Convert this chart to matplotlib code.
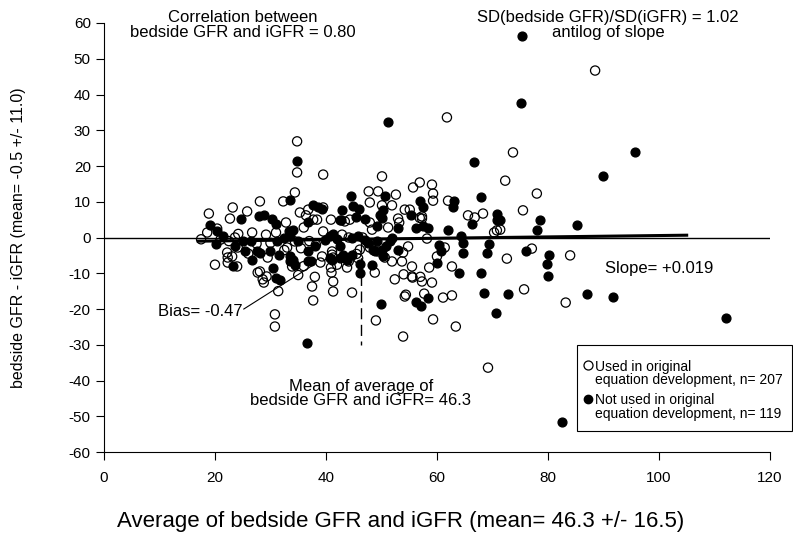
import matplotlib.pyplot as plt
import numpy as np
from matplotlib.patches import Rectangle

plt.rcParams['font.family'] = ['Liberation Sans', 'DejaVu Sans']
plt.rcParams['axes.unicode_minus'] = False

# average of bedside GFR and iGFR (x), difference bedside GFR - iGFR (y)
# used in original equation development (open circles)
used = np.array([
    (88.5, 46.7), (61.8, 33.6), (73.7, 23.8), (72.3, 15.9), (78.0, 12.3), (75.5, 7.6),
    (71.4, 2.2), (77.1, -3.1), (72.6, -5.9), (84.0, -5.0), (75.7, -14.5), (83.2, -18.2),
    (69.2, -36.4), (63.4, -24.9), (59.3, -22.9), (34.8, 26.9), (34.8, 18.2), (39.5, 17.6),
    (50.1, 17.1), (47.7, 12.9), (49.4, 12.9), (55.7, 14.0), (56.9, 15.4), (59.1, 14.8),
    (59.3, 12.3), (59.3, 10.3), (52.6, 12.0), (62.0, 10.3), (65.6, 6.2), (66.8, 5.6),
    (68.3, 6.7), (70.3, 1.4), (70.8, 2.0), (57.3, 5.9), (58.2, -0.3), (61.4, -2.8),
    (60.0, -5.3), (58.6, -8.4), (62.7, -8.1), (57.3, -12.3), (59.1, -12.6), (57.7, -15.7),
    (61.1, -16.8), (62.7, -16.2), (47.9, 9.8), (50.1, 9.0), (51.9, 9.0), (54.2, 7.8),
    (55.1, 7.8), (53.0, 5.3), (53.2, 4.2), (56.9, 5.5), (44.3, 5.0), (51.2, 2.8),
    (42.9, 0.8), (44.1, 0.0), (46.6, 0.0), (47.9, -2.8), (49.4, -3.9), (54.8, -2.5),
    (50.6, -5.6), (51.9, -6.7), (53.9, -4.2), (53.7, -6.7), (45.8, -5.8), (45.5, -4.6),
    (44.1, -6.7), (41.3, -5.6), (40.9, -8.4), (42.0, -7.6), (43.8, -8.4), (48.8, -9.8),
    (54.0, -10.3), (55.5, -10.9), (57.0, -11.0), (41.0, -9.8), (41.3, -12.3), (37.5, -13.7),
    (37.7, -17.6), (41.3, -15.1), (44.7, -15.4), (49.0, -23.2), (53.9, -27.7), (52.4, -11.7),
    (54.2, -16.5), (18.9, 6.7), (18.6, 1.4), (17.5, -0.5), (20.0, -7.6), (22.2, -4.2),
    (22.3, -5.6), (24.0, -8.1), (23.2, 8.4), (22.7, 5.3), (25.8, 7.3), (28.1, 10.1),
    (23.6, 0.0), (26.7, 1.4), (24.1, -2.8), (29.2, 0.8), (29.5, -5.6), (32.8, 4.2),
    (32.3, 10.1), (34.4, 12.6), (28.1, -9.5), (33.9, -8.1), (22.3, -7.0), (23.1, -5.3),
    (27.7, -9.8), (28.6, -11.7), (29.3, -10.9), (31.4, -15.0), (30.8, -21.5), (30.8, -24.9),
    (20.4, 2.5), (36.8, 7.8), (36.4, 6.2), (37.7, 5.0), (39.5, 8.4), (40.9, 5.0),
    (33.0, -2.8), (34.4, -1.1), (31.0, 1.4), (41.1, -4.8), (39.3, -5.3), (35.3, 7.0),
    (43.4, 4.5), (36.0, 2.8), (39.5, 1.7), (24.2, 1.0), (21.0, -0.6), (22.5, -1.0),
    (27.5, -1.7), (30.0, -1.5), (32.5, -3.5), (35.5, -3.0), (37.0, -1.0), (38.2, -2.0),
    (39.0, -7.0), (36.0, -8.0), (26.0, -4.5), (35.0, -10.5), (38.0, -11.0), (57.3, 5.3),
    (47.9, 4.2), (48.3, 2.2), (46.1, -3.4), (55.5, -8.1), (38.4, 5.0), (41.1, -3.9),
    (28.8, -12.6), (54.4, -16.0), (55.6, -11.2),
])

# not used in original equation development (filled circles)
not_used = np.array([
    (75.3, 56.5), (75.2, 37.6), (95.7, 24.0), (89.9, 17.3), (51.2, 32.4), (34.8, 21.5),
    (66.7, 21.0), (78.6, 5.0), (78.0, 2.0), (85.2, 3.4), (71.4, 5.0), (76.0, -3.9),
    (80.2, -4.8), (79.8, -7.3), (80.0, -10.9), (72.8, -15.7), (87.0, -15.7), (91.7, -16.5),
    (112.0, -22.5), (82.5, -51.5), (36.6, -29.4), (70.6, -21.0), (68.5, -15.4), (49.9, -18.7),
    (56.2, -17.9), (57.1, -19.2), (58.4, -17.0), (56.9, 10.1), (57.5, 8.4), (63.0, 10.1),
    (62.9, 8.4), (67.9, 11.2), (70.8, 6.7), (70.8, 4.8), (66.3, 3.9), (62.0, 2.2),
    (57.5, 3.2), (58.3, 2.6), (64.3, 0.3), (64.7, -1.4), (69.4, -1.7), (60.4, -2.0),
    (60.7, -3.9), (64.7, -4.2), (69.0, -4.2), (60.0, -7.0), (64.0, -9.8), (67.9, -9.8),
    (44.5, 11.5), (50.6, 11.5), (42.9, 7.6), (44.9, 8.7), (45.9, 8.1), (50.3, 7.8),
    (55.3, 6.4), (49.7, 6.4), (50.1, 5.5), (42.5, 5.0), (47.0, 5.3), (45.5, 5.6),
    (49.2, 3.1), (53.0, 2.8), (56.2, 2.8), (51.9, 0.0), (45.7, 0.3), (40.7, 0.3),
    (41.3, 1.1), (47.6, -1.4), (49.2, -1.1), (50.8, -2.5), (48.8, -3.9), (50.3, -5.3),
    (48.3, -7.6), (46.1, -7.3), (46.1, -10.0), (53.0, -3.4), (48.5, -3.4), (44.7, 0.0),
    (42.7, 4.8), (19.1, 3.6), (20.4, 1.7), (21.4, 0.3), (20.2, -1.7), (23.2, -8.1),
    (24.7, 5.3), (25.0, -1.1), (26.5, -1.1), (26.7, -6.2), (27.9, 5.9), (28.8, 6.2),
    (30.3, 5.3), (31.0, 3.9), (28.1, -4.2), (29.9, -3.9), (31.5, -5.0), (33.3, 1.7),
    (33.5, 10.6), (30.5, -8.4), (34.0, -6.2), (25.4, -3.9), (27.6, -3.9), (31.0, -11.2),
    (31.7, -12.0), (23.6, -2.5), (31.2, -1.1), (34.1, 2.2), (37.7, 9.2), (38.6, 8.4),
    (39.3, 8.1), (36.8, 4.2), (39.8, -0.6), (37.3, -6.7), (40.7, -5.6), (33.5, -6.7),
    (36.8, -6.7), (41.1, -6.2), (43.0, -5.0), (43.8, -6.2), (44.7, -4.8), (36.8, -3.9),
    (32.4, 0.0), (35.0, -1.0), (38.0, -2.5), (42.5, -2.5), (42.0, -0.3), (51.5, -1.1),
    (50.1, -3.4), (33.5, 0.3), (47.0, -0.6), (42.5, -5.6), (33.5, -5.3), (34.4, -7.6),
])

bias = -0.47
slope = 0.019
mean_avg = 46.3
fit_x = np.array([17, 105])
fit_y = bias + slope * (fit_x - mean_avg)

fig = plt.figure(figsize=(7.93, 5.45), dpi=100)
ax = fig.add_axes([0.1311, 0.1706, 0.8398, 0.7872])

ax.axhline(0, color='black', lw=1, zorder=1)
ax.plot(fit_x, fit_y, color='black', lw=2.2, zorder=4)
ax.plot([mean_avg, mean_avg], [-1, -30], color='black', lw=1, ls=(0, (8, 4)), zorder=1)
ax.plot([25.2, 37.8], [-20.0, -7.6], color='black', lw=0.8, zorder=1)

ax.scatter(used[:, 0], used[:, 1], s=44, facecolors='none', edgecolors='black', linewidths=0.9, zorder=3)
ax.scatter(not_used[:, 0], not_used[:, 1], s=40, color='black', zorder=3)

fs = 12
ax.text(25.0, 59.4, 'Correlation between\nbedside GFR and iGFR = 0.80', ha='center', va='center',
        fontsize=fs, linespacing=0.95)
ax.text(90.8, 59.4, 'SD(bedside GFR)/SD(iGFR) = 1.02\nantilog of slope', ha='center', va='center',
        fontsize=fs, linespacing=0.95)
ax.text(24.9, -20.6, 'Bias= -0.47', ha='right', va='center', fontsize=fs)
ax.text(90.3, -8.7, 'Slope= +0.019', ha='left', va='center', fontsize=fs)
ax.text(mean_avg, -43.6, 'Mean of average of\nbedside GFR and iGFR= 46.3', ha='center', va='center',
        fontsize=fs, linespacing=0.95)

# legend box
ax.add_patch(Rectangle((0.710, 0.049), 0.323, 0.2, transform=ax.transAxes, fill=False,
                       edgecolor='black', lw=0.8, clip_on=False))
ax.plot([0.7265], [0.202], 'o', mfc='none', mec='black', ms=6.5, mew=0.9,
        transform=ax.transAxes, clip_on=False)
ax.plot([0.7265], [0.124], 'o', color='black', ms=6,
        transform=ax.transAxes, clip_on=False)
ax.text(0.738, 0.215, 'Used in original\nequation development, n= 207', transform=ax.transAxes,
        ha='left', va='top', fontsize=10, linespacing=0.95)
ax.text(0.738, 0.137, 'Not used in original\nequation development, n= 119', transform=ax.transAxes,
        ha='left', va='top', fontsize=10, linespacing=0.95)

ax.set_xlim(0, 120)
ax.set_ylim(-60, 60)
ax.set_xticks(range(0, 121, 20))
ax.set_yticks(range(-60, 61, 10))
ax.spines['top'].set_visible(False)
ax.spines['right'].set_visible(False)
ax.tick_params(direction='out', length=6, width=0.8, labelsize=11)
ax.tick_params(axis='x', pad=8)
ax.set_xlabel('Average of bedside GFR and iGFR (mean= 46.3 +/- 16.5)', fontsize=16, va='center')
ax.set_ylabel('bedside GFR - iGFR (mean= -0.5 +/- 11.0)', fontsize=11.5, va='center')
ax.xaxis.set_label_coords(0.446, -0.163)
ax.yaxis.set_label_coords(-0.129, 0.5)

fig.savefig('out.png', dpi=100)
